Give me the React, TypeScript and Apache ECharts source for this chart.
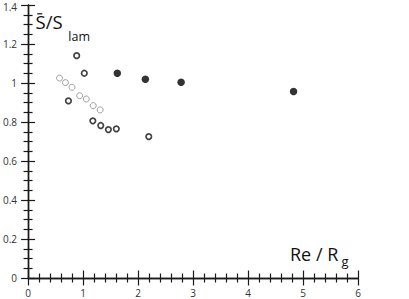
import React, { useEffect, useRef } from "react";
import * as echarts from "echarts";

const filledPoints: [number, number][] = [
  [1.623, 1.05],
  [2.133, 1.019],
  [2.783, 1.004],
  [4.828, 0.956],
];

const blackOpenPoints: [number, number][] = [
  [0.884, 1.14],
  [1.023, 1.05],
  [0.734, 0.908],
  [1.178, 0.806],
  [1.322, 0.782],
  [1.461, 0.761],
  [1.605, 0.765],
  [2.195, 0.725],
];

const greyOpenPoints: [number, number][] = [
  [0.572, 1.025],
  [0.68, 1.002],
  [0.799, 0.978],
  [0.938, 0.935],
  [1.059, 0.918],
  [1.185, 0.884],
  [1.311, 0.862],
];

const xRange = { min: 0, max: 6, interval: 1 };
const yRange = { min: 0, max: 1.4, interval: 0.2 };

const FONT = "Open Sans";

export default function App() {
  const ref = useRef<HTMLDivElement>(null);

  useEffect(() => {
    if (!ref.current) return;
    const chart = echarts.init(ref.current, undefined, { renderer: "svg" });
    const axisLine = { show: true, lineStyle: { color: "#1a1a1a", width: 1.4 } };
    const xTick = { show: true, inside: true, length: 7.5, lineStyle: { color: "#1a1a1a", width: 1.2 } };
    const xMinor = { show: true, splitNumber: 5, length: 4.5, lineStyle: { color: "#1a1a1a", width: 1.2 } };
    const yTick = { show: true, inside: true, length: 7, lineStyle: { color: "#1a1a1a", width: 1.2 } };
    const yMinor = { show: true, splitNumber: 4, length: 4.5, lineStyle: { color: "#1a1a1a", width: 1.2 } };

    chart.setOption({
      animation: false,
      backgroundColor: "#fff",
      grid: { left: 25, right: 51, top: 5, bottom: 21, containLabel: false },
      xAxis: [
        {
          type: "value",
          position: "bottom",
          ...xRange,
          axisLine,
          axisTick: xTick,
          minorTick: xMinor,
          splitLine: { show: false },
          axisLabel: { show: true, fontFamily: FONT, fontSize: 10, color: "#333", margin: 10 },
        },
        {
          type: "value",
          position: "top",
          ...xRange,
          axisLine,
          axisTick: xTick,
          minorTick: xMinor,
          splitLine: { show: false },
          axisLabel: { show: false },
        },
      ],
      yAxis: [
        {
          type: "value",
          position: "left",
          ...yRange,
          axisLine,
          axisTick: yTick,
          minorTick: yMinor,
          splitLine: { show: false },
          axisLabel: {
            show: true,
            fontFamily: FONT,
            fontSize: 10,
            color: "#333",
            margin: 11,
            formatter: (v: number) => (Math.abs(v - 1.4) < 1e-9 ? "{t|1.4}" : String(+v.toFixed(1))),
            rich: { t: { fontFamily: FONT, fontSize: 10, color: "#333", padding: [4, 0, 0, 0] } },
          },
        },
        {
          type: "value",
          position: "right",
          ...yRange,
          axisLine,
          axisTick: yTick,
          minorTick: yMinor,
          splitLine: { show: false },
          axisLabel: { show: false },
        },
      ],
      series: [
        {
          type: "scatter",
          data: greyOpenPoints,
          symbol: "circle",
          symbolSize: 6,
          itemStyle: { color: "#fff", borderColor: "#8a8a8a", borderWidth: 1 },
        },
        {
          type: "scatter",
          data: blackOpenPoints,
          symbol: "circle",
          symbolSize: 5.5,
          itemStyle: { color: "#fff", borderColor: "#111", borderWidth: 1.7 },
        },
        {
          type: "scatter",
          data: filledPoints,
          symbol: "circle",
          symbolSize: 7.5,
          itemStyle: { color: "#000" },
        },
      ],
      graphic: [
        {
          type: "text",
          x: 35.5,
          y: 21.4,
          style: { text: "S/S", fontFamily: FONT, fontSize: 18.5, fill: "#111", verticalAlign: "middle" },
        },
        {
          type: "line",
          shape: { x1: 37.2, y1: 13.8, x2: 42.3, y2: 13.8 },
          style: { stroke: "#111", lineWidth: 1.2 },
        },
        {
          type: "text",
          x: 68.3,
          y: 36.6,
          style: { text: "lam", fontFamily: FONT, fontSize: 12.5, fill: "#111", verticalAlign: "middle" },
        },
        {
          type: "text",
          x: 290,
          y: 254,
          style: { text: "Re / R", fontFamily: FONT, fontSize: 18, fill: "#111", verticalAlign: "middle" },
        },
        {
          type: "text",
          x: 341.5,
          y: 260.6,
          style: { text: "g", fontFamily: FONT, fontSize: 13, fill: "#111", verticalAlign: "middle" },
        },
      ],
    });
    return () => chart.dispose();
  }, []);

  return (
    <div
      ref={ref}
      style={{ position: "fixed", left: 0, top: 0, width: 409, height: 299, background: "#fff" }}
    />
  );
}
